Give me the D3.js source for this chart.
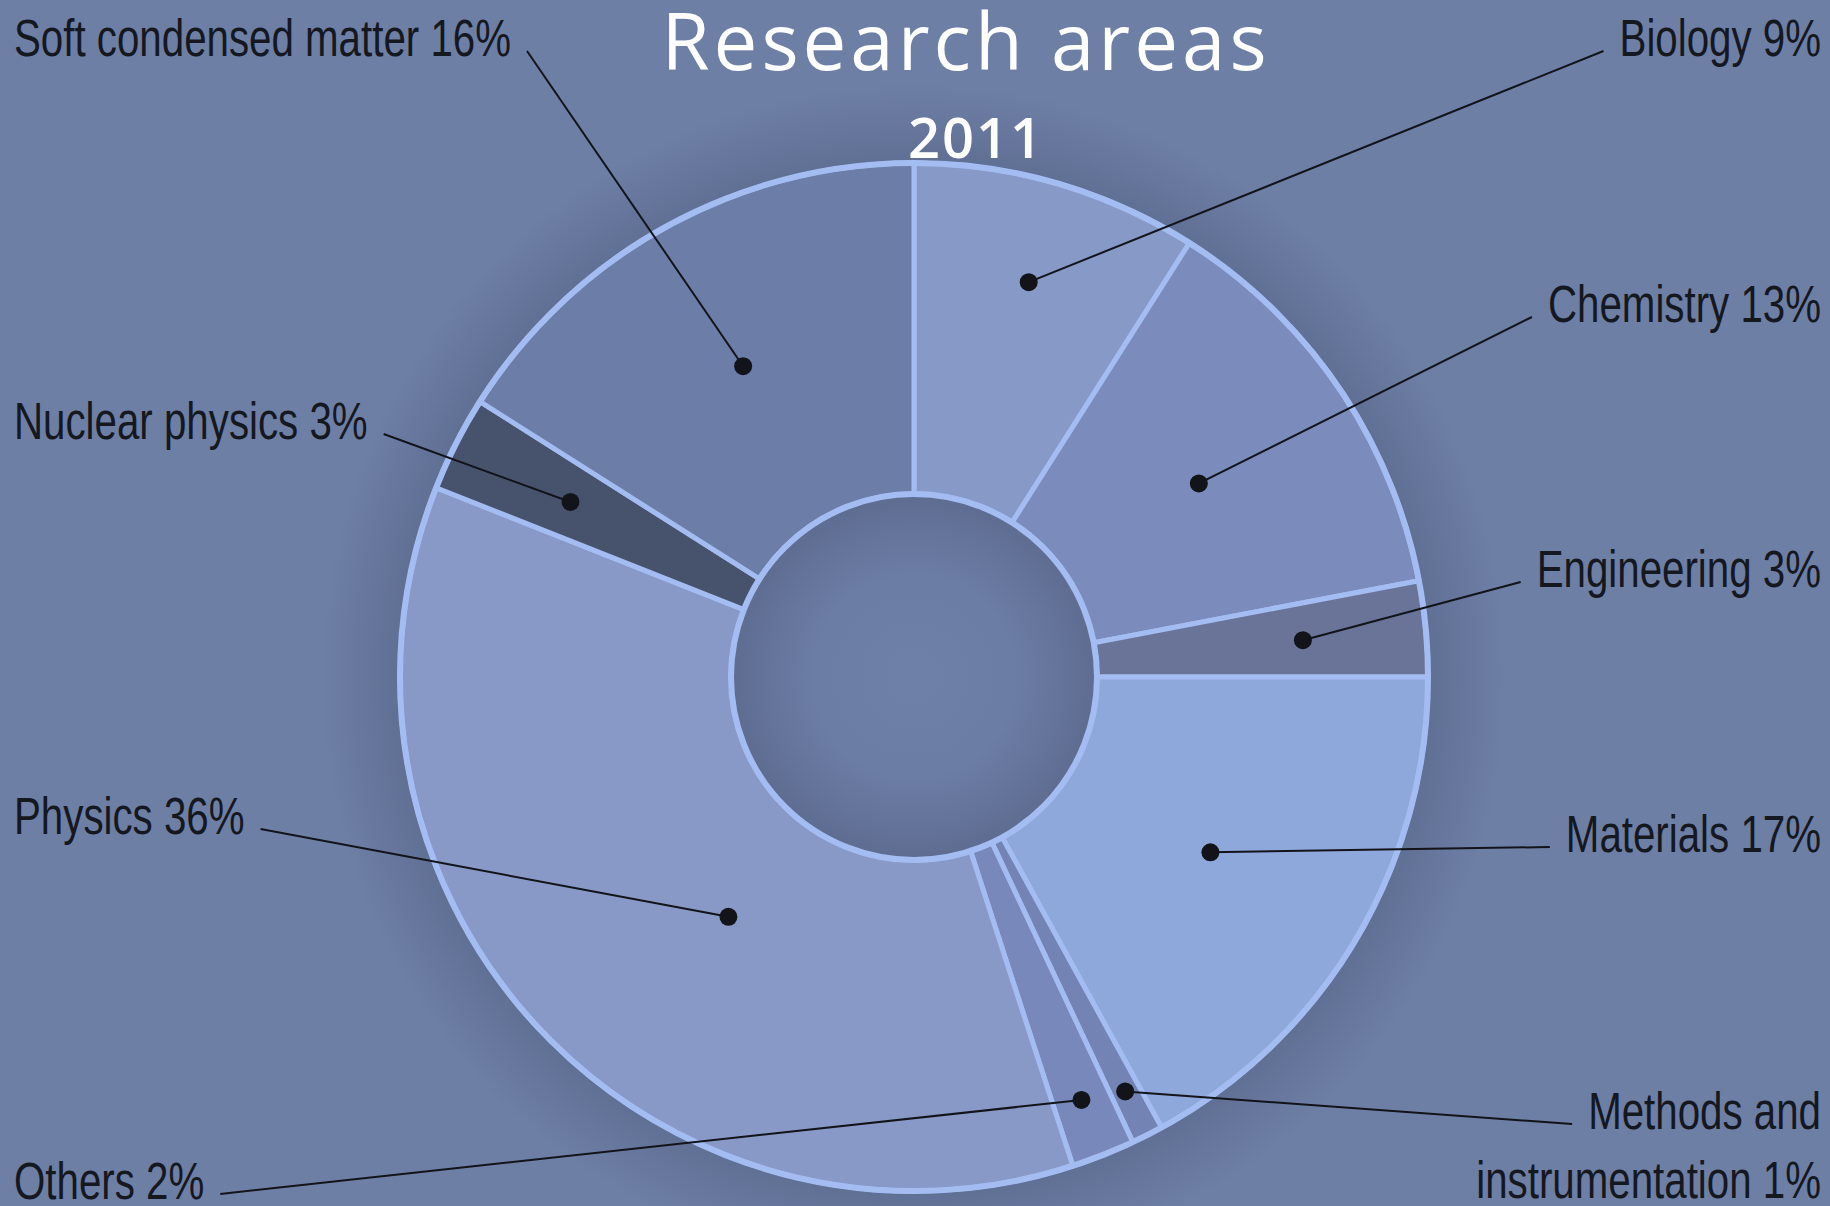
<!DOCTYPE html>
<html>
<head>
<meta charset="utf-8">
<script src="https://cdn.jsdelivr.net/npm/d3@7"></script>
<style>
  html, body { margin: 0; padding: 0; background: #6e7fa6; }
  svg { display: block; }
</style>
</head>
<body>
<svg id="chart" width="1830" height="1206"></svg>
<script>
// values, clockwise from 12 o'clock
const areas = ['Biology', 'Chemistry', 'Engineering', 'Materials', 'Methods and instrumentation',
               'Others', 'Physics', 'Nuclear physics', 'Soft condensed matter'];
const shares = [9, 13, 3, 17, 1, 2, 36, 3, 16];
const sliceColors = ['#8799c7', '#7b8cbc', '#6a7499', '#8fa8db', '#7384b4',
                     '#7888bb', '#8899c8', '#47526d', '#6c7ea8'];
const title = 'Research areas';
const year = '2011';

// label placement (side of the page, baseline) and where the pointer dot sits in its slice
const labelSide = ['right', 'right', 'right', 'right', 'right', 'left', 'left', 'left', 'left'];
const labelBase = [56, 322, 587, 852, 1129, 1199, 834, 439, 56];
const dotR = [0.80, 0.67, 0.76, 0.67, 0.905, 0.885, 0.59, 0.75, 0.69];  // fraction of outer radius
const dotT = [0.5, 0.5, 0.5, 0.5, 0.5, 0.5, 0.43, 0.5, 0.5];            // fraction along the slice

const width = 1830, height = 1206;
const cx = 914, cy = 677;
const outerR = 514, innerR = 183;
const ringColor = '#a3bdf3';
const squeeze = 0.79;   // labels are a narrow face

const data = areas.map((a, i) => ({area: a, share: shares[i], color: sliceColors[i],
  side: labelSide[i], base: labelBase[i], r: dotR[i], t: dotT[i]}));

const svg = d3.select('#chart');
const defs = svg.append('defs');

// dark halo around the pie
const halo = defs.append('radialGradient').attr('id', 'halo')
  .attr('gradientUnits', 'userSpaceOnUse').attr('cx', cx).attr('cy', cy).attr('r', outerR + 80);
halo.append('stop').attr('offset', 0).attr('stop-color', '#3c4766').attr('stop-opacity', 0);
halo.append('stop').attr('offset', (outerR - 5) / (outerR + 80)).attr('stop-color', '#3c4766').attr('stop-opacity', 0.3);
halo.append('stop').attr('offset', 1).attr('stop-color', '#3c4766').attr('stop-opacity', 0);

// sunken centre (used inside the translated group, so centred on 0,0)
const hole = defs.append('radialGradient').attr('id', 'hole')
  .attr('gradientUnits', 'userSpaceOnUse').attr('cx', 0).attr('cy', 0).attr('r', innerR);
hole.append('stop').attr('offset', 0).attr('stop-color', '#6f80a8');
hole.append('stop').attr('offset', 0.55).attr('stop-color', '#6c7da5');
hole.append('stop').attr('offset', 1).attr('stop-color', '#5e6c91');

svg.append('rect').attr('width', width).attr('height', height).attr('fill', '#6e7fa6');
svg.append('circle').attr('cx', cx).attr('cy', cy).attr('r', outerR + 80).attr('fill', 'url(#halo)');

const pie = d3.pie().sort(null).value(d => d.share);
const arcs = pie(data);
const arc = d3.arc().innerRadius(innerR).outerRadius(outerR);

const g = svg.append('g').attr('transform', `translate(${cx},${cy})`);

g.selectAll('path.slice')
  .data(arcs)
  .join('path')
  .attr('class', 'slice')
  .attr('d', arc)
  .attr('fill', d => d.data.color)
  .attr('stroke', ringColor)
  .attr('stroke-width', 5)
  .attr('stroke-linejoin', 'round');

g.append('circle').attr('r', outerR).attr('fill', 'none')
  .attr('stroke', ringColor).attr('stroke-width', 6);
g.append('circle').attr('r', innerR).attr('fill', 'url(#hole)')
  .attr('stroke', ringColor).attr('stroke-width', 6);

// titles
svg.append('text')
  .attr('x', 966).attr('y', 70)
  .attr('text-anchor', 'middle')
  .attr('font-family', '"Open Sans", sans-serif')
  .attr('font-size', 78)
  .attr('letter-spacing', 4)
  .attr('fill', '#ffffff')
  .text(title);

svg.append('text')
  .attr('x', 976).attr('y', 158)
  .attr('text-anchor', 'middle')
  .attr('font-family', '"Open Sans", sans-serif')
  .attr('font-weight', 600)
  .attr('font-size', 56)
  .attr('letter-spacing', 2)
  .attr('fill', '#ffffff')
  .text(year);

// labels
function labelLines(d) {
  if (d.area === 'Methods and instrumentation') return ['Methods and', `instrumentation ${d.share}%`];
  return [`${d.area} ${d.share}%`];
}

const labels = svg.append('g').attr('class', 'labels');

arcs.forEach(a => {
  const d = a.data;
  const right = d.side === 'right';
  const x = right ? 1821 : 14;
  const lines = labelLines(d);

  const lg = labels.append('g')
    .attr('transform', `translate(${x},${d.base}) scale(${squeeze},1)`);
  const texts = lg.selectAll('text')
    .data(lines)
    .join('text')
    .attr('x', 0)
    .attr('y', (s, i) => i * 69)
    .attr('text-anchor', right ? 'end' : 'start')
    .attr('font-family', '"Liberation Sans", Arial, sans-serif')
    .attr('font-size', 51)
    .attr('fill', '#15181f')
    .text(s => s);

  const w = texts.node().getComputedTextLength() * squeeze;
  const gap = 16;
  const x0 = right ? x - w - gap : x + w + gap;
  const y0 = d.base - 5;

  const ang = a.startAngle + (a.endAngle - a.startAngle) * d.t;
  const rr = outerR * d.r;
  const x1 = cx + rr * Math.sin(ang);
  const y1 = cy - rr * Math.cos(ang);

  labels.append('line')
    .attr('x1', x0).attr('y1', y0).attr('x2', x1).attr('y2', y1)
    .attr('stroke', '#121419').attr('stroke-width', 2);
  labels.append('circle')
    .attr('cx', x1).attr('cy', y1).attr('r', 9)
    .attr('fill', '#121419');
});
</script>
</body>
</html>
